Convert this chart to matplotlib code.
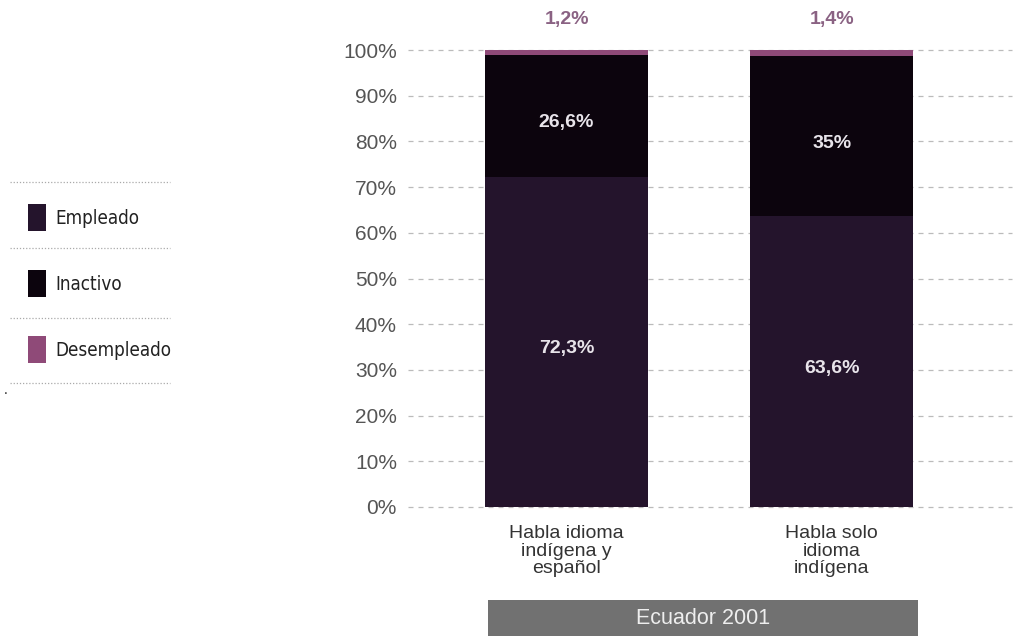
import matplotlib
matplotlib.use("Agg")
import matplotlib.pyplot as plt
from matplotlib.patches import Rectangle
from matplotlib.lines import Line2D

categories = ["Habla idioma\nindígena y\nespañol", "Habla solo\nidioma\nindígena"]
series_names = ["Empleado", "Inactivo", "Desempleado"]
empleado = [72.3, 63.6]
inactivo = [26.6, 35.0]
desempleado = [1.2, 1.4]
yticks = [0, 10, 20, 30, 40, 50, 60, 70, 80, 90, 100]
footer = "Ecuador 2001"

colors = ["#24142c", "#0c040d", "#8f4a78"]
plt.rcParams["font.family"] = ["Liberation Sans", "DejaVu Sans"]

def fmt(v):
    s = f"{v:.1f}".replace(".", ",")
    if s.endswith(",0"):
        s = s[:-2]
    return s + "%"

fig = plt.figure(figsize=(10.15, 6.36), dpi=100)
ax = fig.add_axes([408/1015, 129/636, 604/1015, 457/636])

x = list(range(len(categories)))
w = 0.615
bottoms = [0, 0]
for vals, col in zip([empleado, inactivo, desempleado], colors):
    ax.bar(x, vals, width=w, bottom=bottoms, color=col, zorder=3)
    bottoms = [b + v for b, v in zip(bottoms, vals)]

for i in x:
    ax.annotate(fmt(empleado[i]), (i, empleado[i] / 2), xytext=(0, -5), textcoords="offset points",
                ha="center", va="center", color="#e8e4ea", fontsize=14, fontweight="bold", zorder=4)
    ax.annotate(fmt(inactivo[i]), (i, empleado[i] + inactivo[i] / 2), xytext=(0, -5),
                textcoords="offset points", ha="center", va="center", color="#e8e4ea",
                fontsize=14, fontweight="bold", zorder=4)
    ax.annotate(fmt(desempleado[i]), (i, 100), xytext=(0, 22), textcoords="offset points",
                ha="center", va="center", color="#8a6283", fontsize=14, fontweight="bold",
                annotation_clip=False)

ax.set_xlim(-0.598, 1.68)
ax.set_ylim(0, 100)
ax.set_yticks(yticks)
ax.set_yticklabels([f"{t}%" for t in yticks], color="#555555", fontsize=15)
ax.set_xticks(x)
ax.set_xticklabels(categories, color="#333333", fontsize=14, linespacing=1.05)
ax.tick_params(axis="both", length=0)
ax.tick_params(axis="y", pad=8)
ax.tick_params(axis="x", pad=13)
for s in ax.spines.values():
    s.set_visible(False)
ax.yaxis.grid(True, linestyle=(0, (4, 4)), color="#bbbbbb", linewidth=0.9, zorder=0, clip_on=False)
ax.set_axisbelow(True)

fig.patches.append(Rectangle((488/1015, 0), 430/1015, 36/636, transform=fig.transFigure,
                             facecolor="#717171", edgecolor="none"))
fig.text(703/1015, 18/636, footer, ha="center", va="center", color="#eeeeee", fontsize=15.5)

for yy in [182, 248, 318, 383]:
    fig.add_artist(Line2D([10/1015, 170/1015], [1 - yy/636, 1 - yy/636], transform=fig.transFigure,
                          color="#aaaaaa", linestyle=(0, (1, 1.5)), linewidth=0.9))
for name, col, yc in zip(series_names, colors, [218, 284, 350]):
    fig.patches.append(Rectangle((28/1015, 1 - (yc + 13)/636), 18/1015, 27/636,
                                 transform=fig.transFigure, facecolor=col, edgecolor="none"))
    fig.text(55/1015, 1 - yc/636, name, ha="left", va="center", color="#222222",
             fontsize=13.5, family="DejaVu Sans", fontstretch="condensed")
fig.text(4/1015, 1 - 390/636, ".", ha="left", va="center", color="#222222", fontsize=10)

fig.savefig("out.png", dpi=100)
